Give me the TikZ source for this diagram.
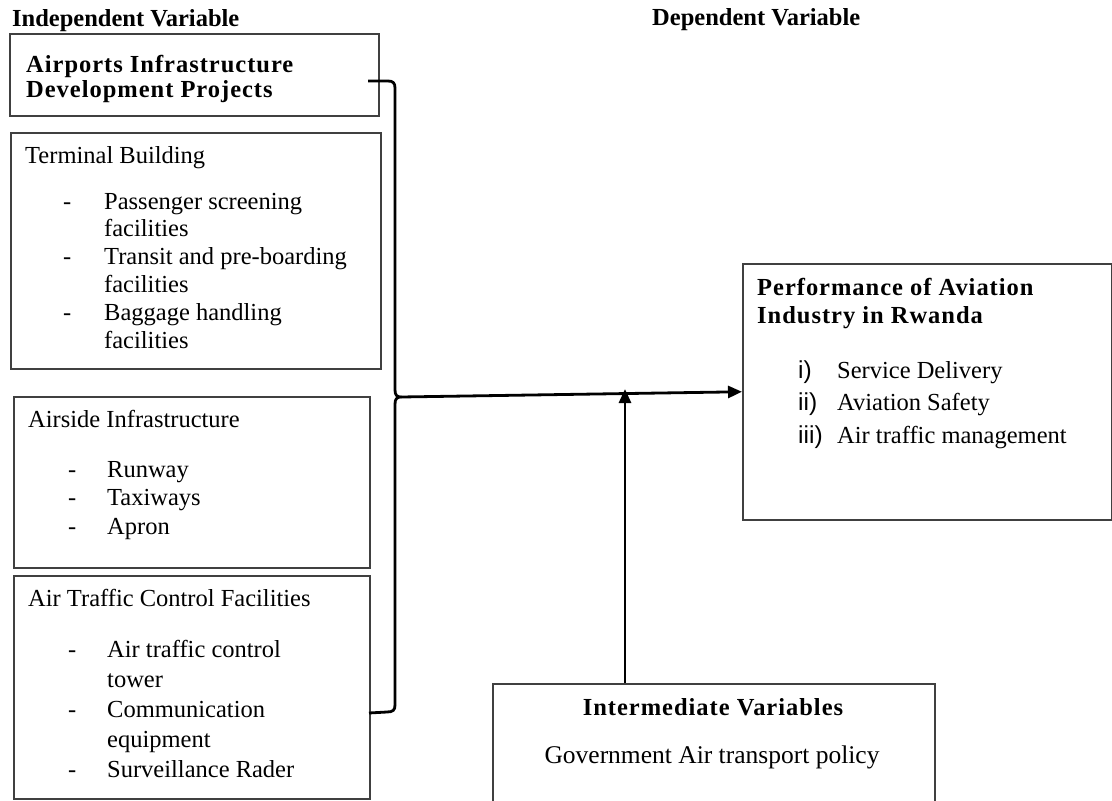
\documentclass[tikz,border=0pt]{standalone}
\usepackage{fontspec}
\setmainfont{Liberation Serif}
\newfontfamily\numfont{Liberation Sans}
\usetikzlibrary{arrows.meta}
\begin{document}
\begin{tikzpicture}[x=1pt,y=-1pt,
  box/.style={draw=black!75,line width=1.5pt,rectangle,inner sep=0pt,anchor=north west},
  txt/.style={inner sep=0pt,anchor=base west,align=left,font=\fontsize{24.5}{28}\selectfont},
  hdr/.style={inner sep=0pt,anchor=base west,font=\fontsize{24.5}{28}\selectfont\bfseries},
  spaced/.style={font=\fontsize{24.5}{#1}\selectfont\bfseries\addfontfeatures{LetterSpace=4}},
  conn/.style={draw=black,line width=2.8pt,line join=round},
  tip/.style={-{Triangle[length=14pt,width=12pt]}}]
\useasboundingbox (0,0) rectangle (1112,801);
\clip (0,0) rectangle (1112,801);
\fill[white] (0,0) rectangle (1112,801);

% column headings
\node[hdr] (hIndep) at (12,26) {Independent Variable};
\node[hdr] (hDep) at (652,25) {Dependent Variable};

% independent variable boxes
\node[box,minimum width=369pt,minimum height=82pt] (proj) at (9,33) {};
\node[txt,spaced=25] (projT) at (26,97)
  {Airports Infrastructure\\Development Projects};

\node[box,minimum width=370pt,minimum height=236pt] (term) at (10,132) {};
\node[txt] (termT) at (25,163) {Terminal Building};
\node[txt,font=\fontsize{24.5}{27.8}\selectfont] (termL) at (63,209)
  {\begin{tabular}[t]{@{}p{41pt}@{}l@{}}
   - & Passenger screening\\
     & facilities\\
   - & Transit and pre-boarding\\
     & facilities\\
   - & Baggage handling\\
     & facilities
   \end{tabular}};

\node[box,minimum width=356pt,minimum height=171pt] (air) at (13,396) {};
\node[txt] (airT) at (28,427) {Airside Infrastructure};
\node[txt,font=\fontsize{24.5}{28.5}\selectfont] (airL) at (68,477)
  {\begin{tabular}[t]{@{}p{39pt}@{}l@{}}
   - & Runway\\
   - & Taxiways\\
   - & Apron
   \end{tabular}};

\node[box,minimum width=356pt,minimum height=223pt] (atc) at (13,575) {};
\node[txt] (atcT) at (28,606) {Air Traffic Control Facilities};
\node[txt,font=\fontsize{24.5}{30.2}\selectfont] (atcL) at (68,657)
  {\begin{tabular}[t]{@{}p{39pt}@{}l@{}}
   - & Air traffic control\\
     & tower\\
   - & Communication\\
     & equipment\\
   - & Surveillance Rader
   \end{tabular}};

% dependent variable box
\node[box,minimum width=369pt,minimum height=256pt] (perf) at (742,263) {};
\node[txt,spaced=28] (perfT) at (757,323)
  {Performance of Aviation\\Industry in Rwanda};
\node[txt,font=\fontsize{24.5}{32.5}\selectfont] (perfL) at (798,378)
  {\begin{tabular}[t]{@{}p{39pt}@{}l@{}}
   {\numfont i)}   & Service Delivery\\
   {\numfont ii)}  & Aviation Safety\\
   {\numfont iii)} & Air traffic management
   \end{tabular}};

% intermediate variable box (runs off the lower edge)
\node[box,minimum width=442pt,minimum height=140pt] (inter) at (492,683) {};
\node[inner sep=0pt,anchor=base,spaced=28] (interT) at (713,715)
  {Intermediate Variables};
\node[inner sep=0pt,anchor=base,font=\fontsize{25.5}{28}\selectfont] (interP) at (712,763)
  {Government Air transport policy};

% brace gathering the independent variables
\coordinate (bTop) at (368,81);
\coordinate (bMid) at (401,397);
\coordinate (bBot) at (369,713);
\draw[conn] (bTop) -- (388,81) .. controls (393,81) and (395,83) .. (395,88)
  -- (395,390) .. controls (395,395) and (397,397) .. (bMid)
  .. controls (397,397) and (395,399) .. (395,404)
  -- (395,705) .. controls (395,710) and (393,712) .. (387,712) -- (bBot);

% arrows
\draw[conn,tip] (bMid) -- (perf.west);
\coordinate (vBase) at (625,683);
\coordinate (vTip) at (625,389);
\draw[conn,tip] (vBase) -- (vTip);
\end{tikzpicture}
\end{document}
